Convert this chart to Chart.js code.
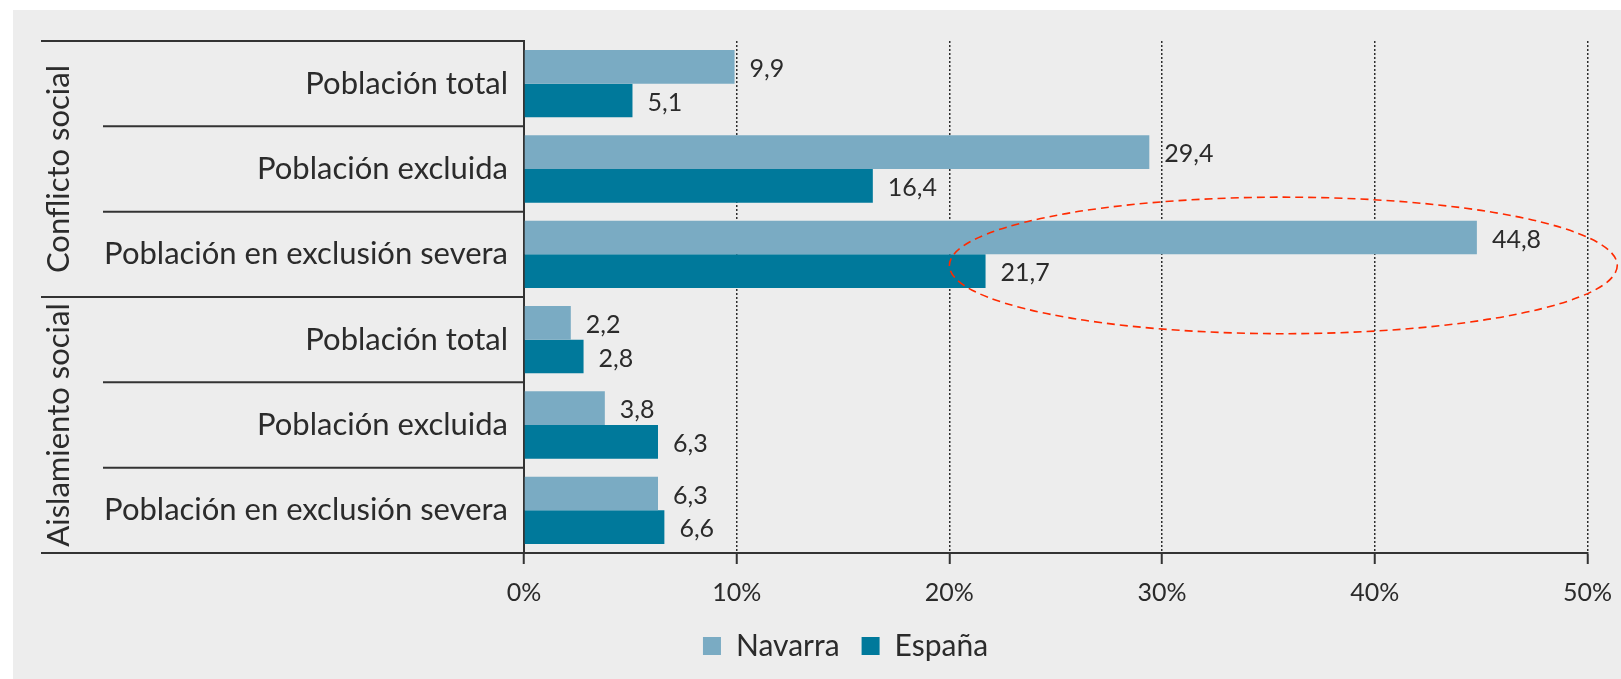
<!DOCTYPE html>
<html lang="es">
<head>
<meta charset="utf-8">
<title>Conflicto social y aislamiento social: Navarra y España</title>
<script src="https://cdn.jsdelivr.net/npm/chart.js@4.4.1/dist/chart.umd.min.js"></script>
<style>
  html, body { margin: 0; padding: 0; background: #fff; }
  #wrap { width: 1621px; height: 679px; }
</style>
</head>
<body>
<div id="wrap"><canvas id="chart"></canvas></div>
<script>
// datos
const categories = ["Población total", "Población excluida", "Población en exclusión severa",
                    "Población total", "Población excluida", "Población en exclusión severa"];
const groups = ["Conflicto social", "Aislamiento social"];
const groupSizes = [3, 3];
const seriesNames = ["Navarra", "España"];
const navarra = [9.9, 29.4, 44.8, 2.2, 3.8, 6.3];
const espana = [5.1, 16.4, 21.7, 2.8, 6.3, 6.6];
const xTicks = [0, 10, 20, 30, 40, 50];

// elipse roja (en valores de la escala)
const highlight = { from: 20, to: 51.4, row: 2, shift: 0.13, halfRows: 0.8 };

const textColor = "#2b2b2b";
const lineColor = "#333333";

const panel = {
    id: "panel",
    beforeDraw(chart) {
        const ctx = chart.ctx;
        ctx.save();
        ctx.fillStyle = "#ffffff";
        ctx.fillRect(0, 0, chart.width, chart.height);
        ctx.fillStyle = "#ededed";
        ctx.fillRect(13, 10, chart.width - 13, chart.height - 10);
        ctx.restore();
    }
};

// líneas de la tabla y títulos de grupo
const table = {
    id: "table",
    afterDraw(chart) {
        const { ctx, chartArea, scales: { y } } = chart;
        const band = y.getPixelForValue(1) - y.getPixelForValue(0);
        const edge = i => y.getPixelForValue(i) - band / 2;
        const outerX = 41, innerX = 103;
        const hline = (x0, yy) => {
            ctx.beginPath();
            ctx.moveTo(x0, yy);
            ctx.lineTo(chartArea.left, yy);
            ctx.stroke();
        };
        ctx.save();
        ctx.strokeStyle = lineColor;
        ctx.lineWidth = 2;
        hline(outerX, chartArea.top);
        hline(outerX, chartArea.bottom);
        let start = 0;
        groupSizes.forEach((n, g) => {
            for (let i = start + 1; i < start + n; i++) hline(innerX, edge(i));
            if (g < groupSizes.length - 1) hline(outerX, edge(start + n));
            const cy = (edge(start) + edge(start + n)) / 2;
            ctx.save();
            ctx.translate(59, cy);
            ctx.rotate(-Math.PI / 2);
            ctx.font = "31px Lato";
            ctx.fillStyle = textColor;
            ctx.textAlign = "center";
            ctx.textBaseline = "middle";
            ctx.fillText(groups[g], 0, 0);
            ctx.restore();
            start += n;
        });
        ctx.restore();
    }
};

const valueLabels = {
    id: "valueLabels",
    afterDatasetsDraw(chart) {
        const ctx = chart.ctx;
        ctx.save();
        ctx.font = "25px Lato";
        ctx.fillStyle = textColor;
        ctx.textBaseline = "middle";
        chart.data.datasets.forEach((ds, di) => {
            chart.getDatasetMeta(di).data.forEach((bar, i) => {
                const txt = ds.data[i].toFixed(1).replace(".", ",");
                ctx.fillText(txt, bar.x + 15, bar.y + 2);
            });
        });
        ctx.restore();
    }
};

const ellipse = {
    id: "ellipse",
    afterDatasetsDraw(chart) {
        const { ctx, scales: { x, y } } = chart;
        const x0 = x.getPixelForValue(highlight.from);
        const x1 = x.getPixelForValue(highlight.to);
        const band = y.getPixelForValue(1) - y.getPixelForValue(0);
        const cy = y.getPixelForValue(highlight.row) + highlight.shift * band;
        ctx.save();
        ctx.strokeStyle = "#ff2a00";
        ctx.lineWidth = 1.6;
        ctx.setLineDash([8, 5]);
        ctx.beginPath();
        ctx.ellipse((x0 + x1) / 2, cy, (x1 - x0) / 2, highlight.halfRows * band, 0, 0, Math.PI * 2);
        ctx.stroke();
        ctx.restore();
    }
};

new Chart(document.getElementById("chart"), {
    type: "bar",
    data: {
        labels: categories,
        datasets: [
            { label: seriesNames[0], data: navarra, backgroundColor: "#7aabc3" },
            { label: seriesNames[1], data: espana, backgroundColor: "#00799b" }
        ]
    },
    options: {
        indexAxis: "y",
        responsive: true,
        maintainAspectRatio: false,
        animation: false,
        categoryPercentage: 0.79,
        barPercentage: 1,
        layout: { padding: { top: 41, left: 102, right: 32, bottom: 8 } },
        scales: {
            x: {
                min: 0,
                max: 50,
                afterBuildTicks: s => { s.ticks = xTicks.map(v => ({ value: v })); },
                ticks: {
                    callback: v => v + "%",
                    font: { family: "Lato", size: 25, lineHeight: 1.56 },
                    color: textColor,
                    padding: 9,
                    maxRotation: 0
                },
                grid: {
                    color: c => (c.tick && c.tick.value === 0) ? "rgba(0,0,0,0)" : "#2e2e2e",
                    lineWidth: 1.5,
                    tickLength: 11,
                    tickColor: lineColor,
                    tickWidth: 2,
                    tickBorderDash: []
                },
                border: { display: true, color: lineColor, width: 2, dash: [2, 2] },
                afterFit: s => { s.height = 56; }
            },
            y: {
                ticks: { font: { family: "Lato", size: 31 }, color: textColor, padding: 16 },
                grid: { display: false, drawTicks: false },
                border: { display: true, color: lineColor, width: 2 },
                afterFit: s => { s.width = 422; }
            }
        },
        plugins: {
            legend: {
                position: "bottom",
                labels: {
                    font: { family: "Lato", size: 30 },
                    color: textColor,
                    boxWidth: 18,
                    boxHeight: 18,
                    padding: 22
                }
            },
            tooltip: { enabled: false }
        }
    },
    plugins: [panel, table, valueLabels, ellipse]
});
</script>
</body>
</html>
